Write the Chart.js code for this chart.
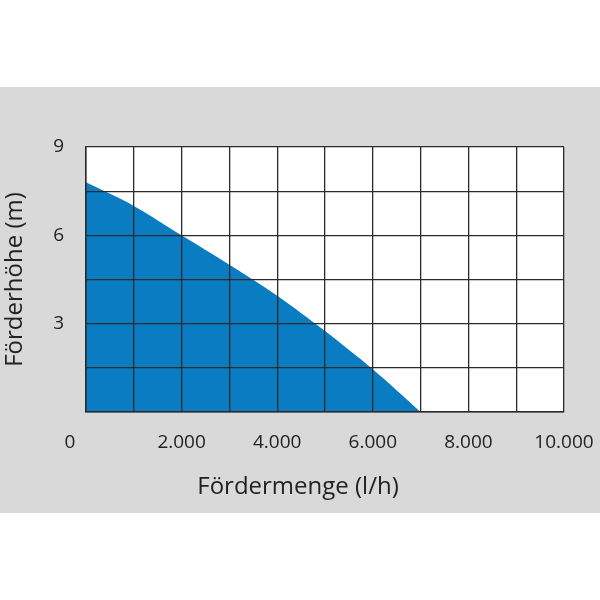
<!DOCTYPE html>
<html>
<head>
<meta charset="utf-8">
<script src="https://cdn.jsdelivr.net/npm/chart.js@4"></script>
<style>
  html, body { margin: 0; padding: 0; background: #fff; }
  #band { position: absolute; left: 0; top: 87px; width: 600px; height: 426px; background: #d9d9d9; }
</style>
</head>
<body>
<div id="band"><canvas id="pumpChart" width="600" height="426"></canvas></div>
<script>
// Pump curve: flow rate (l/h) vs. head (m)
const flowRates = [0, 1000, 2000, 3000, 4000, 5000, 6000, 7000];
const headValues = [7.8, 7.0, 6.0, 5.0, 3.95, 2.75, 1.45, 0];
const xTickLabels = ['0', '2.000', '4.000', '6.000', '8.000', '10.000'];
const yTickLabels = ['3', '6', '9'];
const xTitle = 'Fördermenge (l/h)';
const yTitle = 'Förderhöhe (m)';

const textColor = '#222';
const tickFont = { family: '"Open Sans"', size: 19 };

// "0" sits a bit left of the axis, and the x title is centred on the whole figure
const extraText = {
    id: 'extraText',
    afterDraw(chart) {
        const x = chart.scales.x;
        const ctx = chart.ctx;
        const bottom = chart.chartArea.bottom;
        ctx.save();
        ctx.fillStyle = textColor;
        ctx.textAlign = 'center';
        ctx.textBaseline = 'middle';
        ctx.font = '19px "Open Sans"';
        ctx.fillText(xTickLabels[0], x.getPixelForValue(0) - 16, bottom + 31);
        ctx.font = '24px "Open Sans"';
        ctx.fillText(xTitle, chart.width / 2 - 2, bottom + 75);
        ctx.restore();
    }
};

const plotBg = {
    id: 'plotBg',
    beforeDraw(chart) {
        const a = chart.chartArea;
        chart.ctx.save();
        chart.ctx.fillStyle = '#fff';
        chart.ctx.fillRect(a.left, a.top, a.right - a.left, a.bottom - a.top);
        chart.ctx.restore();
    }
};

new Chart(document.getElementById('pumpChart'), {
    type: 'line',
    data: {
        datasets: [{
            data: flowRates.map((q, i) => ({ x: q, y: headValues[i] })),
            borderWidth: 0,
            borderColor: '#0a7cc1',
            backgroundColor: '#0a7cc1',
            pointRadius: 0,
            tension: 0.3,
            fill: 'origin'
        }]
    },
    options: {
        responsive: false,
        animation: false,
        layout: { padding: { left: 0, right: 36, top: 60, bottom: 0 } },
        plugins: {
            legend: { display: false },
            tooltip: { enabled: false }
        },
        scales: {
            x: {
                type: 'linear',
                min: 0,
                max: 10000,
                afterFit: s => { s.height = 101; s.paddingLeft = 0; s.paddingRight = 0; },
                grid: { color: '#2b2b2b', lineWidth: 1.3, drawTicks: false, z: 1 },
                border: { color: '#2b2b2b', width: 1.5, z: 1 },
                ticks: {
                    stepSize: 1000,
                    padding: 19,
                    color: textColor,
                    font: tickFont,
                    maxRotation: 0,
                    autoSkip: false,
                    callback: v => (v > 0 && v % 2000 === 0) ? xTickLabels[v / 2000] : ''
                }
            },
            y: {
                min: 0,
                max: 9,
                afterFit: s => { s.width = 86; s.paddingTop = 0; s.paddingBottom = 0; },
                grid: { color: '#2b2b2b', lineWidth: 1.3, drawTicks: false, z: 1 },
                border: { color: '#2b2b2b', width: 1.5, z: 1 },
                ticks: {
                    stepSize: 1.5,
                    padding: 22,
                    color: textColor,
                    font: tickFont,
                    autoSkip: false,
                    callback: v => (v > 0 && v % 3 === 0) ? yTickLabels[v / 3 - 1] : ''
                },
                title: {
                    display: true,
                    text: yTitle,
                    color: textColor,
                    font: { family: '"Open Sans"', size: 24 },
                    padding: { top: 1, bottom: 0 }
                }
            }
        }
    },
    plugins: [plotBg, extraText]
});
</script>
</body>
</html>
